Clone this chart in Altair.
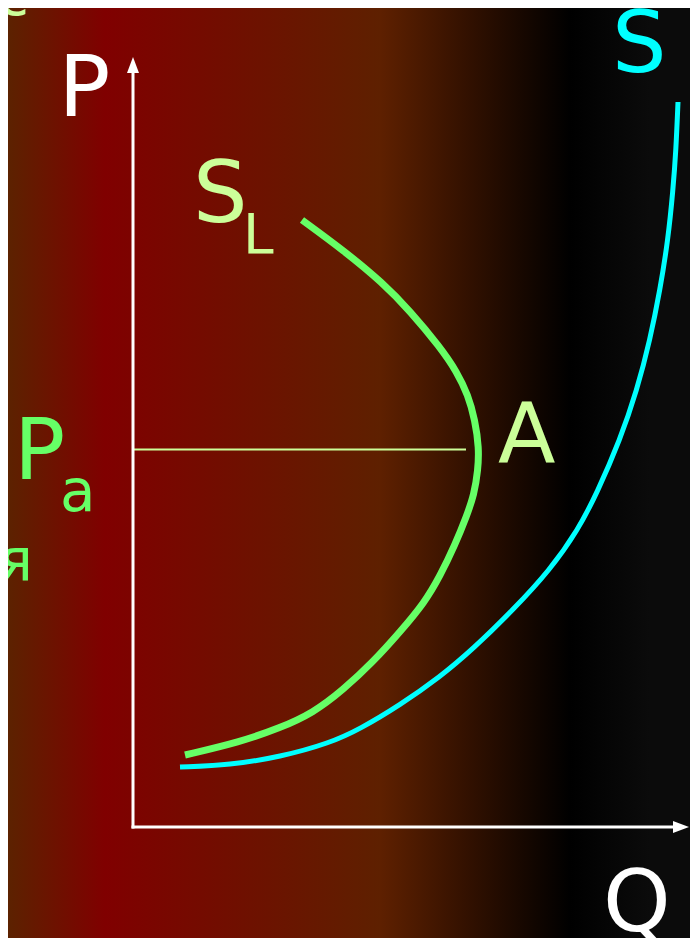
import altair as alt
import pandas as pd

# ---- data (Q = quantity, P = price; units measured from the axis origin) ----
s_q = [47, 97, 147, 197, 227, 267, 307, 340, 380, 417, 445, 464, 487, 504, 517, 527, 535, 540, 543, 545]
s_p = [60, 62, 70, 84, 98, 122, 150, 178, 217, 257, 297, 334, 387, 437, 487, 537, 587, 637, 677, 725]

sl_q = [169, 210, 250, 277, 307, 324, 335, 342, 346, 345, 341, 334, 322, 307, 292, 267, 240, 210, 180, 147, 107, 52]
sl_p = [607, 577, 544, 516, 480, 455, 432, 407, 379, 357, 332, 312, 282, 251, 225, 195, 165, 137, 114, 99, 85, 72]

pa_level = 377.5
pa_q_end = 333

labels = ["P", "S", "Q", "S", "L", "A", "P", "a", "я", "с", "у"]
label_q = [-74.4, 479, 470, 60, 110, 365, -119, -73, -135, -136, -137]
label_p = [711, 755, -104, 605, 574, 364, 348, 316, 246, 812, -147]
label_color = ["#ffffff", "#00ffff", "#ffffff", "#ccff99", "#ccff99", "#ccff99",
               "#66ff66", "#66ff66", "#66ff66", "#ccff99", "#66ff66"]
label_size = [86, 86, 86, 86, 55, 84, 85, 58, 58, 58, 58]

W, H = 682, 930
Q_MIN, P_MAX = -125, 819

# ---- tables ----
s_df = pd.DataFrame({"q": s_q, "p": s_p, "i": range(len(s_q))})
sl_df = pd.DataFrame({"q": sl_q, "p": sl_p, "i": range(len(sl_q))})
txt_df = pd.DataFrame({"label": labels, "q": label_q, "p": label_p,
                       "color": label_color, "size": label_size})
bg_df = pd.DataFrame({"q": [Q_MIN], "q2": [Q_MIN + W], "p": [P_MAX - H], "p2": [P_MAX]})
axes_df = pd.DataFrame({"q": [0, -1.5], "q2": [0, 541], "p": [-1.5, 0], "p2": [755, 0]})
pa_df = pd.DataFrame({"q": [0], "q2": [pa_q_end], "p": [pa_level], "p2": [pa_level]})
arrow_up_df = pd.DataFrame({"q": [0], "p": [762]})
arrow_right_df = pd.DataFrame({"q": [548], "p": [0]})

xs = alt.Scale(domain=[Q_MIN, Q_MIN + W], range=[0, W], nice=False, zero=False, padding=0)
ys = alt.Scale(domain=[P_MAX - H, P_MAX], range=[H, 0], nice=False, zero=False, padding=0)
X = lambda f="q": alt.X(f"{f}:Q", scale=xs, axis=None)
Y = lambda f="p": alt.Y(f"{f}:Q", scale=ys, axis=None)

grad = alt.LinearGradient(
    gradient="linear", x1=0, x2=1, y1=0, y2=0,
    stops=[
        alt.GradientStop(color="#5c2200", offset=0.0),
        alt.GradientStop(color="#800000", offset=0.142),
        alt.GradientStop(color="#5e2000", offset=0.546),
        alt.GradientStop(color="#361200", offset=0.663),
        alt.GradientStop(color="#180800", offset=0.751),
        alt.GradientStop(color="#000000", offset=0.824),
        alt.GradientStop(color="#0b0b0b", offset=0.941),
        alt.GradientStop(color="#0b0b0b", offset=1.0),
    ],
)

bg = alt.Chart(bg_df).mark_rect(fill=grad, strokeWidth=0).encode(
    x=X(), x2="q2", y=Y(), y2="p2")

axes = alt.Chart(axes_df).mark_rule(color="white", strokeWidth=3).encode(
    x=X(), x2="q2", y=Y(), y2="p2")

arrow_up = alt.Chart(arrow_up_df).mark_point(
    shape="M0,-1L0.75,1L-0.75,1Z", size=256, filled=True, color="white", opacity=1
).encode(x=X(), y=Y())
arrow_right = alt.Chart(arrow_right_df).mark_point(
    shape="M1,0L-1,-0.75L-1,0.75Z", size=256, filled=True, color="white", opacity=1
).encode(x=X(), y=Y())

pa_line = alt.Chart(pa_df).mark_rule(color="#ccff99", strokeWidth=2).encode(
    x=X(), x2="q2", y=Y(), y2="p2")

s_line = alt.Chart(s_df).mark_line(
    color="#00ffff", strokeWidth=5, interpolate="basis"
).encode(x=X(), y=Y(), order="i:Q")

sl_line = alt.Chart(sl_df).mark_line(
    color="#66ff66", strokeWidth=7, interpolate="basis"
).encode(x=X(), y=Y(), order="i:Q")

texts = alt.Chart(txt_df).mark_text(
    font="DejaVu Sans", align="left", baseline="alphabetic"
).encode(
    x=X(), y=Y(), text="label:N",
    color=alt.Color("color:N", scale=None),
    size=alt.Size("size:Q", scale=None),
)

chart = alt.layer(
    bg, pa_line, axes, arrow_up, arrow_right, s_line, sl_line, texts
).properties(
    width=W, height=H, padding=0,
    autosize=alt.AutoSizeParams(type="none"),
    background="#0b0b0b",
).configure_view(stroke=None)

chart.save("out.html", embed_options={"renderer": "svg", "actions": False})
